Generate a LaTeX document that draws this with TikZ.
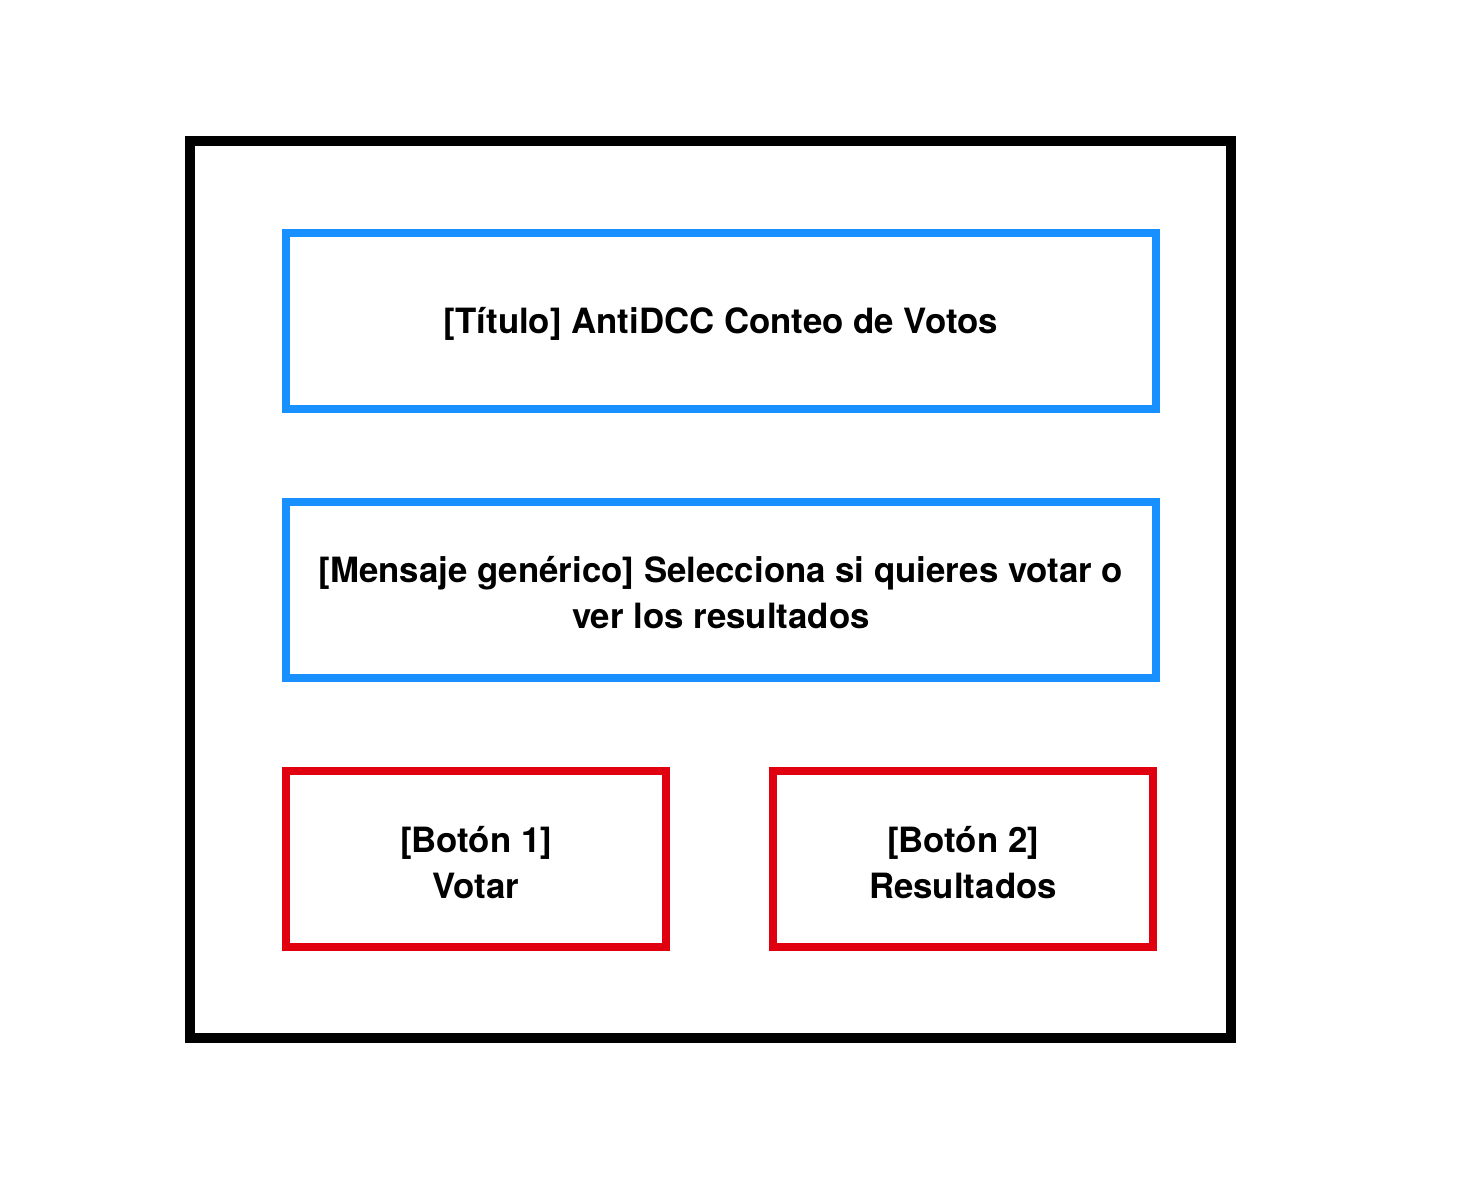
\documentclass[tikz,border=0pt]{standalone}
\usepackage{fontspec}
\setmainfont{TeX Gyre Heros}
\definecolor{boxblue}{RGB}{24,144,255}
\definecolor{boxred}{RGB}{225,0,16}
\begin{document}
\begin{tikzpicture}[x=1pt,y=-1pt,
  txt/.style={font=\fontsize{34.8}{46}\selectfont\bfseries, align=center},
  bluebox/.style={draw=boxblue, line width=8pt},
  redbox/.style={draw=boxred, line width=8pt}]
\useasboundingbox (0,0) rectangle (1474,1198);
\draw[line width=10pt] (190,141) rectangle (1231,1038);
\draw[bluebox] (286,233) rectangle (1156,409);
\node[txt] (titulo) at (721,324) {[Título] AntiDCC Conteo de Votos};
\draw[bluebox] (286,502) rectangle (1156,678);
\node[txt] (mensaje) at (721,593) {[Mensaje genérico] Selecciona si quieres votar o\\ver los resultados};
\draw[redbox] (286,771) rectangle (666,947);
\node[txt] (boton1) at (476,863) {[Botón 1]\\Votar};
\draw[redbox] (773,771) rectangle (1153,947);
\node[txt] (boton2) at (963,863) {[Botón 2]\\Resultados};
\end{tikzpicture}
\end{document}
